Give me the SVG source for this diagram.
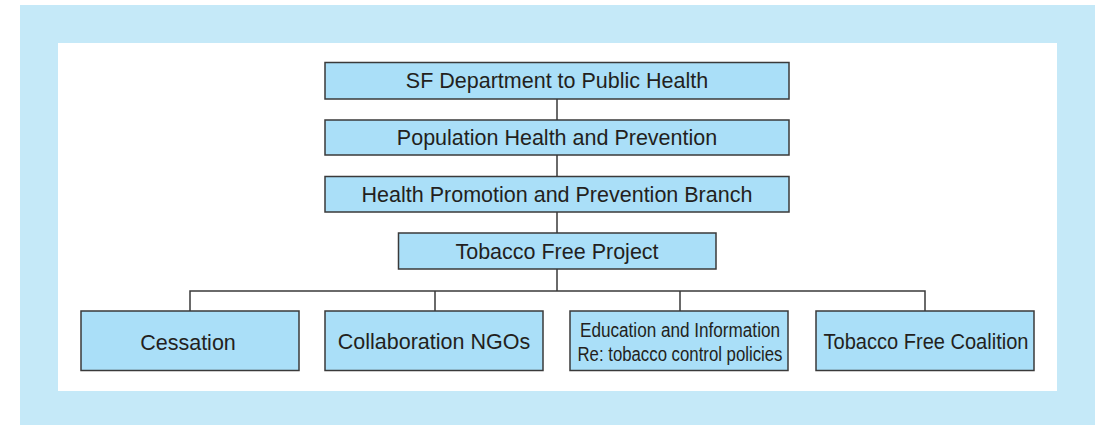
<svg xmlns="http://www.w3.org/2000/svg" width="1102" height="425" viewBox="0 0 1102 425">
  <style>
    .frame { fill: #c5e9f8; }
    .panel { fill: #ffffff; }
    .box { fill: #aadff8; stroke: #3a3a3a; stroke-width: 1.5; }
    .label { font-family: "Liberation Sans", Arial, sans-serif; font-size: 21.5px; fill: #231f20; text-anchor: middle; }
    .small { font-size: 20px; }
    .link { fill: none; stroke: #3a3a3a; stroke-width: 1.5; }
  </style>

  <!-- background frame and white panel -->
  <rect class="frame" x="20" y="5" width="1075" height="420"/>
  <rect class="panel" x="58" y="43" width="999" height="348"/>

  <!-- connectors -->
  <g id="connectors">
    <path class="link" d="M557 99 V120 M557 155 V176 M557 212 V233 M557 269 V291"/>
    <path class="link" d="M190 311 V291 H925 V311 M435 291 V311 M680 291 V311"/>
  </g>

  <g id="node-sfdph">
    <rect class="box" x="325" y="62.5" width="464" height="36.5"/>
    <text class="label" x="557" y="88">SF Department to Public Health</text>
  </g>

  <g id="node-population">
    <rect class="box" x="325" y="120" width="464" height="35"/>
    <text class="label" x="557" y="144.5">Population Health and Prevention</text>
  </g>

  <g id="node-branch">
    <rect class="box" x="325" y="176.5" width="464" height="35.5"/>
    <text class="label" x="557" y="201.5">Health Promotion and Prevention Branch</text>
  </g>

  <g id="node-tfp">
    <rect class="box" x="398.5" y="233" width="317.5" height="36"/>
    <text class="label" x="557" y="258.5">Tobacco Free Project</text>
  </g>

  <g id="node-cessation">
    <rect class="box" x="81" y="311" width="218" height="59.5"/>
    <text class="label" x="188" y="349.5">Cessation</text>
  </g>

  <g id="node-ngos">
    <rect class="box" x="325" y="311" width="218" height="59.5"/>
    <text class="label" x="434" y="348.5">Collaboration NGOs</text>
  </g>

  <g id="node-education">
    <rect class="box" x="570" y="311" width="218" height="59.5"/>
    <text class="label small" x="680" y="336.5" textLength="200" lengthAdjust="spacingAndGlyphs">Education and Information</text>
    <text class="label small" x="680" y="361" textLength="205" lengthAdjust="spacingAndGlyphs">Re: tobacco control policies</text>
  </g>

  <g id="node-coalition">
    <rect class="box" x="816" y="311" width="218" height="59.5"/>
    <text class="label" x="926" y="348.5" textLength="205" lengthAdjust="spacingAndGlyphs">Tobacco Free Coalition</text>
  </g>
</svg>
